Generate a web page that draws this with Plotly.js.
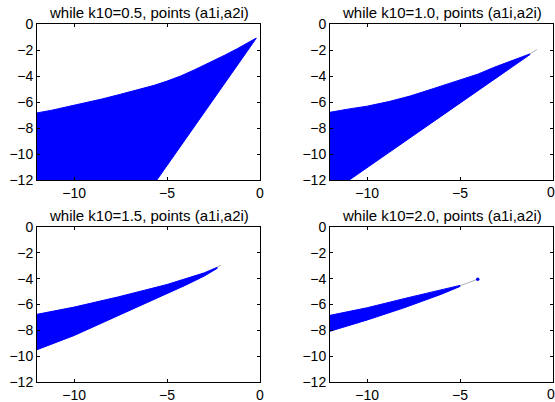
<!DOCTYPE html>
<html>
<head>
<meta charset="utf-8">
<script src="https://cdn.plot.ly/plotly-3.0.1.min.js"></script>
<style>html,body{margin:0;padding:0;background:#fff;}#chart{width:555px;height:402px;}</style>
</head>
<body>
<div id="chart"></div>
<script>
// Panel titles
const titles = [
  "while k10=0.5, points (a1i,a2i)",
  "while k10=1.0, points (a1i,a2i)",
  "while k10=1.5, points (a1i,a2i)",
  "while k10=2.0, points (a1i,a2i)"
];

// Region boundaries (a1i on x, a2i on y)
// k10 = 0.5
const upper1X = [-12, -11.2, -10, -9.2, -8.45, -7.55, -6.6, -5.7, -5, -4.27, -3.55, -2.6, -1.9, -1.2, -0.45, -0.2];
const upper1Y = [-6.84, -6.63, -6.27, -6.0, -5.75, -5.42, -5.08, -4.72, -4.39, -4.0, -3.54, -2.92, -2.4, -1.88, -1.29, -1.08];
const lower1X = [-0.3, -5.55];
const lower1Y = [-1.3, -12];
// k10 = 1.0
const upper2X = [-12, -10.96, -10, -8.78, -7.69, -6.42, -5, -4.05, -3.15, -2.24, -1.24];
const upper2Y = [-6.79, -6.53, -6.32, -5.95, -5.54, -4.96, -4.31, -3.86, -3.32, -2.82, -2.3];
const lower2X = [-1.24, -10.96];
const lower2Y = [-2.35, -12];
const tail2X = [-1.24, -0.87];
const tail2Y = [-2.3, -1.96];
// k10 = 1.5
const upper3X = [-12, -10, -7.6, -5, -3, -2.3];
const upper3Y = [-6.76, -6.2, -5.4, -4.45, -3.55, -3.12];
const lower3X = [-2.3, -3, -4, -6, -8, -10, -12];
const lower3Y = [-3.2, -3.8, -4.5, -5.8, -7.1, -8.4, -9.5];
const tail3X = [-2.3, -2.1];
const tail3Y = [-3.12, -2.95];
// k10 = 2.0
const upper4X = [-12, -10, -7.8, -5];
const upper4Y = [-6.84, -6.25, -5.47, -4.52];
const lower4X = [-5, -6, -8, -10, -12];
const lower4Y = [-4.6, -5.2, -6.25, -7.2, -8.07];
const tail4X = [-5, -4.1];
const tail4Y = [-4.55, -4.07];
const dot4X = [-4.05];
const dot4Y = [-4.05];

// Axis tick values
const xTicks = [-10, -5, 0];
const yTicks = [0, -2, -4, -6, -8, -10, -12];

const BLUE = "#0000ff";
const FONT = "Liberation Sans, Arial, sans-serif";

function poly(x, y, xa, ya) {
  return {x: x, y: y, xaxis: xa, yaxis: ya, mode: "lines", fill: "toself",
    fillcolor: BLUE, line: {color: BLUE, width: 1}, hoverinfo: "skip", showlegend: false};
}
function tail(x, y, xa, ya) {
  return {x: x, y: y, xaxis: xa, yaxis: ya, mode: "lines",
    line: {color: "#9a9aaa", width: 0.8}, hoverinfo: "skip", showlegend: false};
}

const data = [
  poly([-12].concat(upper1X, lower1X), [-12].concat(upper1Y, lower1Y), "x", "y"),
  poly([-12].concat(upper2X, lower2X), [-12].concat(upper2Y, lower2Y), "x2", "y2"),
  tail(tail2X, tail2Y, "x2", "y2"),
  poly(upper3X.concat(lower3X), upper3Y.concat(lower3Y), "x3", "y3"),
  tail(tail3X, tail3Y, "x3", "y3"),
  poly(upper4X.concat(lower4X), upper4Y.concat(lower4Y), "x4", "y4"),
  tail(tail4X, tail4Y, "x4", "y4"),
  {x: dot4X, y: dot4Y, xaxis: "x4", yaxis: "y4", mode: "markers",
   marker: {color: BLUE, size: 3.5}, hoverinfo: "skip", showlegend: false}
];

const W = 555, H = 402;
const colDom = [[37 / W, 260 / W], [330 / W, 553 / W]];
const rowDom = [[1 - 180 / H, 1 - 24 / H], [1 - 382 / H, 1 - 227 / H]];

function ax(dom, anchor, vals) {
  return {domain: dom, anchor: anchor, range: [-12, 0], tickvals: vals,
    showgrid: false, zeroline: false, showline: true, mirror: "ticks", linecolor: "#000", linewidth: 1,
    ticks: "inside", ticklen: 3, tickcolor: "#000",
    tickfont: {family: FONT, size: 14, color: "#000"}};
}
// right-column x axes: the 0 label sits at the window edge, drawn as annotation
const xTicksRight = xTicks.filter(v => v !== 0);

const annotations = titles.map((t, i) => ({
  text: t, xref: "paper", yref: "paper", showarrow: false,
  x: (colDom[i % 2][0] + colDom[i % 2][1]) / 2, xanchor: "center",
  y: rowDom[Math.floor(i / 2)][1], yanchor: "bottom", yshift: 1,
  font: {family: FONT, size: 15, color: "#000"}
}));
["x2", "x4"].forEach((xr, k) => {
  annotations.push({text: "0", xref: xr, yref: "paper", x: 0, xanchor: "center", xshift: -2,
    y: k === 0 ? rowDom[0][0] : rowDom[1][0], yanchor: "top", yshift: -2, showarrow: false,
    font: {family: FONT, size: 14, color: "#000"}});
});

const layout = {
  width: W, height: H,
  margin: {l: 0, r: 0, t: 0, b: 0},
  paper_bgcolor: "#fff", plot_bgcolor: "#fff",
  showlegend: false,
  xaxis: ax(colDom[0], "y", xTicks), yaxis: ax(rowDom[0], "x", yTicks),
  xaxis2: ax(colDom[1], "y2", xTicksRight), yaxis2: ax(rowDom[0], "x2", yTicks),
  xaxis3: ax(colDom[0], "y3", xTicks), yaxis3: ax(rowDom[1], "x3", yTicks),
  xaxis4: ax(colDom[1], "y4", xTicksRight), yaxis4: ax(rowDom[1], "x4", yTicks),
  annotations: annotations
};

Plotly.newPlot("chart", data, layout, {staticPlot: true, displayModeBar: false});
</script>
</body>
</html>
